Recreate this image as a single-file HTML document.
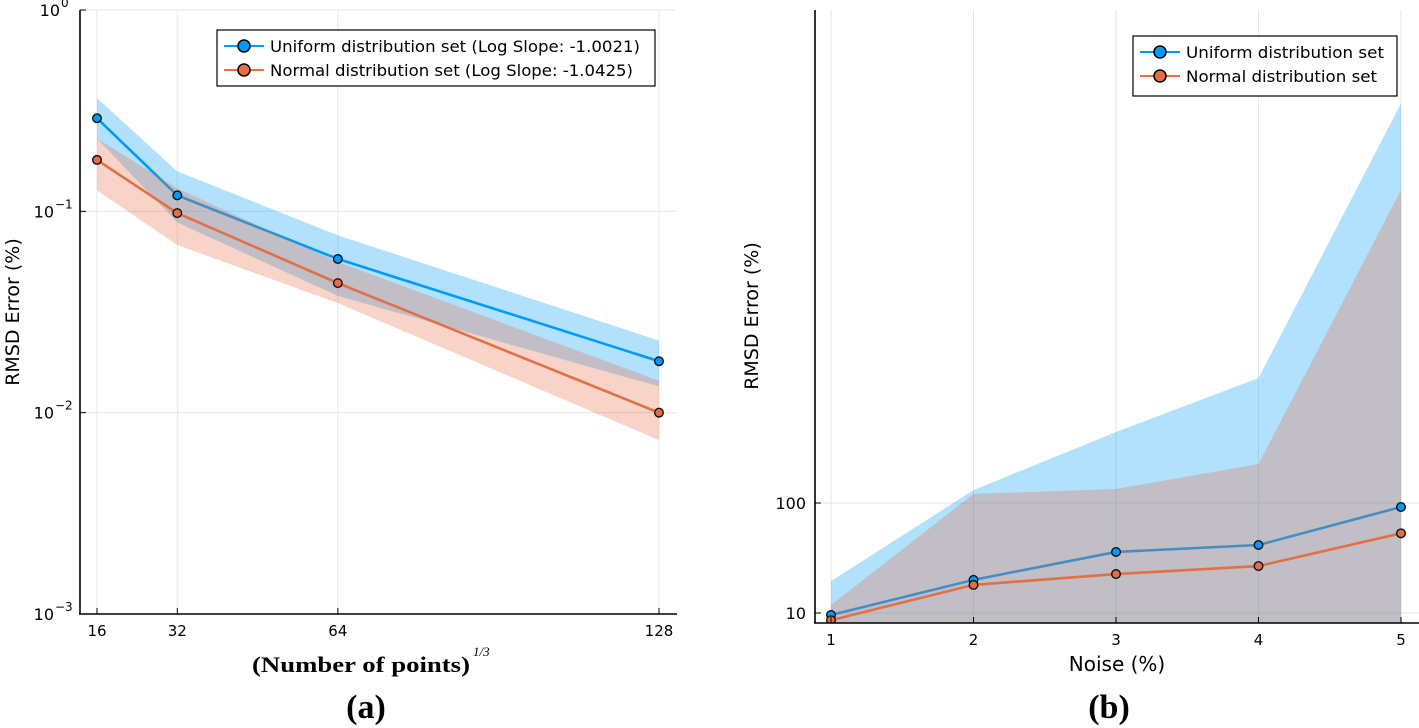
<!DOCTYPE html>
<html><head><meta charset="utf-8"><style>
html,body{margin:0;padding:0;background:#fff;}
svg{display:block;font-family:"DejaVu Sans","Liberation Sans",sans-serif;}
</style></head><body>
<svg id="s" width="1419" height="728" viewBox="0 0 1419 728"></svg>
<script>
// Panel (a) data
const aX = [16, 32, 64, 128];
const aUniform = [0.29, 0.12, 0.058, 0.018];
const aUniformHi = [0.365, 0.158, 0.076, 0.0228];
const aUniformLo = [0.23, 0.088, 0.038, 0.0135];
const aNormal = [0.18, 0.098, 0.044, 0.01];
const aNormalHi = [0.23, 0.13, 0.056, 0.0144];
const aNormalLo = [0.127, 0.068, 0.035, 0.0073];
const aXTicks = [16, 32, 64, 128];
const aYTicks = [-3, -2, -1, 0];
// Panel (b) data
const bX = [1, 2, 3, 4, 5];
const bUniform = [9.6, 20, 35.9, 41.5, 92];
const bUniformHi = [19.5, 131, 442, 1368, 430000];
const bUniformLo = [1, 1, 1, 1, 1];
const bNormal = [8.6, 18, 22.6, 26.7, 53];
const bNormalHi = [11.8, 121, 134, 226, 70000];
const bNormalLo = [1, 1, 1, 1, 1];
const bXTicks = [1, 2, 3, 4, 5];
const bYTicks = [10, 100];

const NS = "http://www.w3.org/2000/svg";
const svg = document.getElementById('s');
function mk(tag, attrs, parent){const e=document.createElementNS(NS,tag);for(const k in attrs)e.setAttribute(k,attrs[k]);(parent||svg).appendChild(e);return e;}
const BLUE="#009afa", ORANGE="#e36f47";

const ax = v => 97 + (v-16)*(562/112);
const ay = v => 10 + (-Math.log10(v))*201.33;
const bx = v => 831 + (v-1)*142.5;
const by = v => 613 - (Math.log10(v)-1)*110;

function panel(name, clip, xs, fx, fy, series){
  const g = mk('g',{'clip-path':'url(#'+clip+')'});
  
  
  series.forEach(s=>{
    let d='';
    xs.forEach((x,i)=>{d+=(i?'L':'M')+fx(x)+','+fy(s.hi[i]);});
    for(let i=xs.length-1;i>=0;i--) d+='L'+fx(xs[i])+','+fy(s.lo[i]);
    const band=mk('path',{d:d+'Z',fill:s.c,'fill-opacity':0.3,stroke:'none'},g);
    
    
    const pts=xs.map((x,i)=>fx(x)+','+fy(s.v[i])).join(' ');
    const line=mk('polyline',{points:pts,fill:'none',stroke:s.c,'stroke-width':2.6},g);
    
    
  });
  series.forEach(s=>{
    xs.forEach((x,i)=>{
      const c=mk('circle',{cx:fx(x),cy:fy(s.v[i]),r:4.3,fill:s.c,stroke:'#111','stroke-width':1.4},g);
      
      
    });
  });
}
const defs=mk('defs',{});
const c1=mk('clipPath',{id:'ca'},defs); mk('rect',{x:80,y:10,width:597,height:604},c1);
const c2=mk('clipPath',{id:'cb'},defs); mk('rect',{x:815,y:10,width:604,height:613},c2);

aXTicks.forEach(t=>{const l=mk('line',{x1:ax(t),x2:ax(t),y1:10,y2:614,stroke:'#e6e6e6','stroke-width':1});
});
aYTicks.forEach(t=>{const l=mk('line',{x1:80,x2:677,y1:ay(Math.pow(10,t)),y2:ay(Math.pow(10,t)),stroke:'#e6e6e6','stroke-width':1});
});
bXTicks.forEach(t=>{const l=mk('line',{x1:bx(t),x2:bx(t),y1:10,y2:623,stroke:'#e6e6e6','stroke-width':1});
});
bYTicks.forEach(t=>{const l=mk('line',{x1:815,x2:1419,y1:by(t),y2:by(t),stroke:'#e6e6e6','stroke-width':1});
});

panel('a','ca',aX,ax,ay,[{n:'uniform',c:BLUE,v:aUniform,hi:aUniformHi,lo:aUniformLo},{n:'normal',c:ORANGE,v:aNormal,hi:aNormalHi,lo:aNormalLo}]);
panel('b','cb',bX,bx,by,[{n:'uniform',c:BLUE,v:bUniform,hi:bUniformHi,lo:bUniformLo},{n:'normal',c:ORANGE,v:bNormal,hi:bNormalHi,lo:bNormalLo}]);

mk('line',{x1:80,x2:80,y1:10,y2:614,stroke:'#000','stroke-width':1.6});
mk('line',{x1:79,x2:677,y1:614,y2:614,stroke:'#000','stroke-width':1.6});
aXTicks.forEach(t=>{
  mk('line',{x1:ax(t),x2:ax(t),y1:614,y2:608,stroke:'#000'});
  const tx=mk('text',{x:ax(t),y:636,'font-size':15,'text-anchor':'middle'});tx.textContent=t;
  
});
aYTicks.forEach(t=>{
  const y=ay(Math.pow(10,t));
  mk('line',{x1:80,x2:86,y1:y,y2:y,stroke:'#000'});
  const tx=mk('text',{x:t<0?54:60,y:y+6,'font-size':16,'text-anchor':'end'});tx.textContent='10';
  
  const sp=mk('text',{x:t<0?55:61,y:y-3,'font-size':12,'text-anchor':'start'});sp.textContent=String(t).replace('-','\u2212');
});
mk('line',{x1:815,x2:815,y1:10,y2:623,stroke:'#000','stroke-width':1.6});
mk('line',{x1:814,x2:1419,y1:623,y2:623,stroke:'#000','stroke-width':1.6});
bXTicks.forEach(t=>{
  mk('line',{x1:bx(t),x2:bx(t),y1:623,y2:617,stroke:'#000'});
  const tx=mk('text',{x:bx(t),y:645,'font-size':15,'text-anchor':'middle'});tx.textContent=t;
  
});
bYTicks.forEach(t=>{
  mk('line',{x1:815,x2:821,y1:by(t),y2:by(t),stroke:'#000'});
  const tx=mk('text',{x:806,y:by(t)+6,'font-size':16,'text-anchor':'end'});tx.textContent=t;
  
});

function legend(x,y,w,h,items,name,tw){
  const g=mk('g',{});
  mk('rect',{x:x,y:y,width:w,height:h,fill:'#fff',stroke:'#000','stroke-width':1.2},g);
  items.forEach((it,i)=>{
    const yy=y+16+i*24;
    mk('line',{x1:x+7,x2:x+47,y1:yy,y2:yy,stroke:it.c,'stroke-width':2},g);
    mk('circle',{cx:x+27,cy:yy,r:6,fill:it.c,stroke:'#000','stroke-width':1.5},g);
    const t=mk('text',{x:x+53,y:yy+6,'font-size':16,textLength:tw[i],lengthAdjust:'spacingAndGlyphs'},g);t.textContent=it.t;
    
  });
}
legend(217,30,438,56,[{c:BLUE,t:'Uniform distribution set (Log Slope: -1.0021)'},{c:ORANGE,t:'Normal distribution set (Log Slope: -1.0425)'}],'a-legend',[370,363]);
legend(1133,36,264,60,[{c:BLUE,t:'Uniform distribution set'},{c:ORANGE,t:'Normal distribution set'}],'b-legend',[198,191]);

let t=mk('text',{x:0,y:0,'font-size':19,'text-anchor':'middle',transform:'translate(19,312) rotate(-90)'});t.textContent='RMSD Error (%)';

t=mk('text',{x:0,y:0,'font-size':19,'text-anchor':'middle',transform:'translate(758,316) rotate(-90)'});t.textContent='RMSD Error (%)';

t=mk('text',{x:1117,y:671,'font-size':20,'text-anchor':'middle'});t.textContent='Noise (%)';

t=mk('text',{x:252,y:672,'font-size':22,'font-family':'Liberation Serif, serif','font-weight':'bold',textLength:218,lengthAdjust:'spacingAndGlyphs'});t.textContent='(Number of points)';

t=mk('text',{x:473,y:656,'font-size':13,'font-family':'Liberation Serif, serif','font-style':'italic'});t.textContent='1/3';
t=mk('text',{x:366,y:718,'font-size':34,'text-anchor':'middle','font-family':'Liberation Serif, serif','font-weight':'bold'});t.textContent='(a)';

t=mk('text',{x:1109,y:718,'font-size':34,'text-anchor':'middle','font-family':'Liberation Serif, serif','font-weight':'bold'});t.textContent='(b)';

</script>
</body></html>
